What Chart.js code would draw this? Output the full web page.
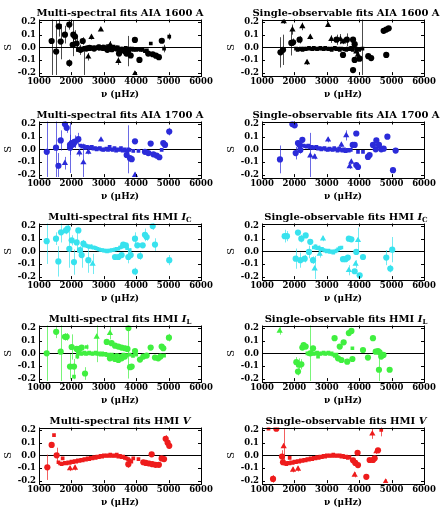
<!DOCTYPE html>
<html>
<head>
<meta charset="utf-8">
<script src="https://cdn.jsdelivr.net/npm/chart.js@4.4.0/dist/chart.umd.min.js"></script>
<style>
  body { margin: 0; background: #fff; width: 446px; height: 513px; position: relative; overflow: hidden; }
  .panel { position: absolute; width: 223px; height: 102px; }
  .panel canvas { position: absolute; left: 0; top: 0; }
  .ttl { position: absolute; top: 7px; white-space: nowrap; transform: translateX(-50%);
         font: bold 10px 'DejaVu Serif'; line-height: 11px; color: #000; }
  .ttl sub { font-size: 7px; line-height: 0; vertical-align: -2px; }
</style>
</head>
<body>
<script>
// axes
const xTicks = [1000, 2000, 3000, 4000, 5000, 6000];
const yTicks = [-0.2, -0.1, 0.0, 0.1, 0.2];

// [frequency, S, error]  -- Multi-spectral AIA 1600
const aia1600MultiCirc = [[1390,0.05,0.4],[1530,-0.034,0.25],[1610,0.165,0.08],[1670,0.045,0.14],[1800,0.10,0.07],[1935,0.18,0.04],[1935,-0.125,0.03],[2040,0.02,0.09],[2060,0.10,0.11],[2110,0.085,0.05],[2160,0.03,0.05],[2350,0.05,0.03],[2380,-0.32,0.31],[2280,-0.02,0.02],[2460,-0.01,0.01],[2560,-0.005,0.01],[2700,-0.01,0.01],[2850,0.0,0.01],[2980,-0.005,0.01],[3110,-0.02,0.01],[3250,-0.015,0.01],[3400,-0.01,0.01],[3470,-0.05,0.01],[3560,-0.02,0.01],[3640,-0.03,0.01],[3700,-0.05,0.01],[3760,-0.03,0.12],[3830,-0.065,0.01],[3960,0.058,0.01],[4100,-0.10,0.01],[4370,-0.05,0.01],[4510,-0.055,0.01],[4610,-0.066,0.01],[4700,-0.078,0.01],[4790,0.052,0.015]];
const aia1600MultiTri = [[2250,-0.02,0.04],[2520,-0.075,0.03],[2620,0.08,0.02],[2910,0.14,0.01],[3200,0.02,0.03],[3450,-0.11,0.03],[3960,-0.21,0.02]];
const aia1600MultiSq = [[2200,-0.02,0.01],[2240,-0.015,0.01],[2300,-0.01,0.01],[2330,-0.02,0.01],[2400,-0.005,0.01],[2430,-0.015,0.01],[2480,-0.01,0.01],[2520,0.0,0.01],[2580,-0.01,0.01],[2620,-0.005,0.01],[2660,0.0,0.01],[2720,-0.01,0.01],[2760,0.0,0.01],[2800,-0.005,0.01],[2840,0.005,0.01],[2880,-0.01,0.01],[2930,0.0,0.01],[2960,-0.005,0.01],[3000,0.005,0.01],[3040,-0.01,0.01],[3080,0.0,0.01],[3130,0.01,0.01],[3170,-0.005,0.01],[3210,0.0,0.01],[3260,-0.01,0.01],[3300,0.005,0.01],[3340,-0.005,0.01],[3380,-0.015,0.01],[3430,0.0,0.01],[3480,-0.01,0.01],[3520,-0.02,0.01],[3580,-0.01,0.01],[3620,-0.015,0.01],[3680,-0.005,0.01],[3720,-0.02,0.01],[3780,-0.01,0.01],[3820,-0.015,0.01],[3870,-0.01,0.01],[3920,-0.02,0.01],[4000,-0.02,0.01],[4060,-0.015,0.01],[4130,-0.02,0.01],[4200,-0.02,0.01],[4270,-0.03,0.01],[4330,-0.025,0.01],[4450,0.03,0.01],[4860,-0.01,0.03],[5020,0.085,0.025]];

// Single-observable AIA 1600
const aia1600SingleCirc = [[1570,-0.04,0.12],[1650,-0.02,0.12],[1905,0.035,0.1],[1960,0.04,0.03],[2160,0.06,0.03],[3300,0.06,0.04],[3500,-0.06,0.01],[3620,0.06,0.05],[3810,0.06,0.01],[3860,0.025,0.01],[3860,-0.1,0.02],[3810,-0.18,0.01],[4010,-0.09,0.01],[4280,-0.07,0.01],[4370,-0.085,0.01],[4755,0.13,0.015],[4835,0.14,0.015],[4835,-0.06,0.01],[4910,0.15,0.015]];
const aia1600SingleTri = [[1670,0.205,0.02],[1940,0.14,0.04],[2245,0.165,0.03],[2390,-0.12,0.02],[2490,0.08,0.02],[3040,0.175,0.01],[3140,0.065,0.03],[3420,0.065,0.04],[3500,0.045,0.02],[3910,-0.035,0.02],[3960,-0.06,0.02]];
const aia1600SingleSq = [[2050,-0.01,0.01],[2100,-0.02,0.01],[2150,-0.015,0.01],[2200,-0.01,0.01],[2250,-0.02,0.01],[2300,-0.01,0.01],[2350,-0.015,0.01],[2400,-0.01,0.01],[2450,-0.005,0.01],[2500,-0.01,0.01],[2550,-0.015,0.01],[2600,-0.005,0.01],[2650,-0.01,0.01],[2700,-0.015,0.01],[2750,-0.01,0.01],[2800,-0.005,0.01],[2850,-0.01,0.01],[2900,-0.015,0.01],[2950,-0.005,0.01],[3000,-0.01,0.01],[3050,-0.015,0.01],[3100,-0.01,0.01],[3150,-0.02,0.01],[3200,-0.01,0.01],[3250,-0.005,0.01],[3300,-0.015,0.01],[3350,-0.01,0.01],[3400,-0.02,0.01],[3450,-0.01,0.01],[3550,-0.015,0.01],[3600,-0.02,0.01],[3650,-0.01,0.01],[3700,-0.015,0.01],[3750,-0.005,0.01],[3800,-0.02,0.01],[3900,-0.01,0.01],[3950,-0.015,0.01],[4000,-0.02,0.01],[4100,-0.01,0.4]];

// Multi-spectral AIA 1700
const aia1700MultiCirc = [[1240,-0.02,0.4],[1525,0.013,0.3],[1600,-0.13,0.1],[1670,0.07,0.08],[1800,0.2,0.04],[1855,0.17,0.04],[1957,0.035,0.08],[1957,0.013,0.2],[2008,0.05,0.03],[2060,0.04,0.03],[2111,0.06,0.05],[2214,0.08,0.05],[3706,-0.045,0.01],[3810,-0.07,0.01],[3860,-0.078,0.01],[3963,0.063,0.01],[4270,-0.02,0.01],[4374,-0.03,0.01],[4447,0.045,0.01],[4530,-0.04,0.01],[4630,-0.05,0.01],[4714,-0.063,0.01],[4836,0.05,0.01],[4889,0.035,0.01],[5020,0.14,0.03]];
const aia1700MultiTri = [[1800,-0.11,0.05],[2245,-0.026,0.03],[2370,-0.105,0.15],[2523,-0.02,0.02],[2914,0.075,0.01],[3963,-0.205,0.02]];
const aia1700MultiSq = [[2280,0.03,0.01],[2330,0.02,0.01],[2380,0.025,0.01],[2430,0.01,0.01],[2480,0.02,0.01],[2530,0.015,0.01],[2580,0.01,0.01],[2630,0.02,0.01],[2680,0.005,0.01],[2730,0.01,0.01],[2780,0.0,0.01],[2830,0.005,0.01],[2880,0.01,0.01],[2930,0.0,0.01],[2980,-0.005,0.01],[3030,0.0,0.01],[3080,0.005,0.01],[3130,-0.005,0.01],[3180,0.02,0.01],[3230,0.0,0.01],[3280,-0.005,0.01],[3330,0.01,0.01],[3380,-0.01,0.01],[3430,0.0,0.01],[3480,-0.005,0.01],[3530,0.01,0.01],[3580,-0.01,0.01],[3630,0.0,0.01],[3680,-0.01,0.01],[3730,-0.015,0.01],[3750,0.0,0.19],[3790,-0.005,0.01],[3910,-0.013,0.01],[4070,-0.013,0.01],[4786,-0.005,0.01]];

// Single-observable AIA 1700
const aia1700SingleCirc = [[1555,-0.08,0.11],[1936,0.2,0.02],[2008,0.19,0.02],[2040,-0.03,0.05],[2111,0.05,0.02],[2163,0.035,0.02],[2183,-0.005,0.03],[2245,0.075,0.02],[3800,0.035,0.01],[3860,0.035,0.01],[3910,0.125,0.01],[3910,-0.125,0.02],[3963,-0.14,0.02],[4270,-0.06,0.01],[4320,-0.045,0.01],[4425,0.035,0.01],[4510,0.0,0.01],[4530,0.07,0.01],[4610,0.035,0.01],[4680,0.0,0.01],[4755,0.005,0.01],[4870,0.1,0.02],[5043,-0.165,0.01],[5125,-0.01,0.01]];
const aia1700SingleTri = [[2490,-0.05,0.18],[2625,-0.06,0.02],[3040,0.075,0.02],[3450,0.035,0.02],[3600,0.11,0.04],[3706,-0.135,0.02],[3757,-0.1,0.02]];
const aia1700SingleSq = [[2280,0.03,0.01],[2330,0.025,0.01],[2380,0.02,0.01],[2430,0.03,0.01],[2480,0.015,0.01],[2530,0.02,0.01],[2580,0.01,0.01],[2630,0.015,0.01],[2680,0.02,0.01],[2730,0.005,0.01],[2780,0.01,0.01],[2830,0.0,0.01],[2880,0.005,0.01],[2930,0.01,0.01],[2980,0.0,0.01],[3030,-0.005,0.01],[3080,0.005,0.01],[3130,0.0,0.01],[3180,-0.005,0.01],[3230,0.01,0.01],[3280,0.0,0.01],[3330,-0.01,0.01],[3380,0.005,0.01],[3430,-0.005,0.01],[3480,-0.01,0.01],[3530,0.0,0.01],[3580,-0.015,0.01],[3630,-0.005,0.01],[3680,-0.01,0.01],[3740,-0.005,0.01],[3963,-0.02,0.01],[4117,-0.02,0.01]];

// Multi-spectral HMI Ic
const hmiIcMultiCirc = [[1237,0.08,0.18],[1525,0.1,0.05],[1597,-0.08,0.12],[1680,0.15,0.08],[1833,0.165,0.03],[1885,0.18,0.03],[1936,0.02,0.15],[2008,0.087,0.04],[2080,-0.085,0.1],[2163,0.07,0.08],[2214,0.165,0.02],[2265,0.01,0.03],[2317,-0.03,0.1],[2370,0.06,0.03],[2523,-0.07,0.1],[3346,-0.045,0.01],[3450,-0.045,0.01],[3550,-0.03,0.01],[3600,0.053,0.01],[3680,0.047,0.01],[3757,-0.045,0.05],[3830,-0.03,0.02],[3963,0.1,0.05],[3963,-0.16,0.03],[4035,0.047,0.02],[4117,-0.037,0.03],[4200,0.047,0.02],[4270,0.13,0.05],[4323,0.113,0.03],[4510,0.2,0.03],[4580,0.053,0.05],[5020,-0.07,0.04]];
const hmiIcMultiTri = [[2656,-0.1,0.08]];
const hmiIcMultiSq = [[2400,0.05,0.015],[2450,0.045,0.015],[2500,0.04,0.015],[2550,0.035,0.015],[2600,0.04,0.015],[2650,0.03,0.015],[2700,0.03,0.015],[2750,0.025,0.015],[2800,0.02,0.01],[2850,0.015,0.01],[2900,0.01,0.01],[2950,0.01,0.01],[3000,0.005,0.01],[3050,0.005,0.01],[3100,0.0,0.01],[3150,0.005,0.01],[3200,0.005,0.01],[3250,0.01,0.01],[3300,0.01,0.01],[3350,0.015,0.01],[3400,0.02,0.01],[3450,0.02,0.01],[3500,0.03,0.01],[3550,0.035,0.01],[3650,0.04,0.015],[3720,0.025,0.015],[3800,0.01,0.015]];

// Single-observable HMI Ic
const hmiIcSingleCirc = [[1700,0.12,0.05],[1770,0.12,0.04],[2040,-0.058,0.08],[2111,0.148,0.02],[2183,-0.07,0.06],[2214,0.1,0.03],[2317,-0.058,0.03],[2348,0.126,0.02],[2450,-0.005,0.05],[2490,0.075,0.02],[2575,-0.07,0.03],[3500,-0.062,0.02],[3580,-0.062,0.02],[3650,-0.05,0.02],[3680,0.1,0.02],[3757,0.095,0.02],[3860,-0.158,0.02],[3910,-0.005,0.02],[4014,-0.19,0.02],[4117,-0.045,0.02],[4836,-0.05,0.06],[4960,-0.137,0.03],[5020,0.013,0.1]];
const hmiIcSingleTri = [[2625,-0.137,0.1],[2780,-0.02,0.03],[2883,0.1,0.02],[3680,-0.15,0.04],[3890,-0.1,0.03],[3963,0.087,0.1]];
const hmiIcSingleSq = [[2600,0.03,0.015],[2650,0.04,0.015],[2700,0.025,0.015],[2750,0.03,0.015],[2800,0.015,0.01],[2850,0.02,0.01],[2900,0.01,0.01],[2950,0.005,0.01],[3000,0.0,0.01],[3050,0.005,0.01],[3100,-0.005,0.01],[3150,0.0,0.01],[3200,-0.01,0.01],[3250,0.0,0.01],[3300,0.005,0.01],[3350,0.015,0.01],[3400,0.025,0.01],[3450,0.03,0.01]];

// Multi-spectral HMI IL
const hmiIlMultiCirc = [[1237,0.0,0.35],[1530,0.17,0.05],[1669,0.013,0.25],[1802,0.13,0.03],[1854,0.13,0.03],[1957,-0.105,0.1],[2008,0.05,0.1],[2080,-0.105,0.06],[2163,0.035,0.02],[2245,0.035,0.02],[2317,0.045,0.02],[2420,-0.16,0.05],[3090,0.09,0.02],[3240,0.08,0.02],[3346,0.06,0.02],[3450,0.053,0.02],[3550,0.045,0.02],[3650,0.04,0.02],[3730,0.035,0.02],[3760,0.2,0.4],[3190,-0.04,0.01],[3346,-0.045,0.01],[3450,-0.053,0.01],[3550,-0.04,0.01],[3650,-0.026,0.01],[3810,-0.11,0.01],[3860,-0.105,0.01],[3963,0.018,0.01],[4117,-0.05,0.01],[4220,-0.026,0.01],[4323,-0.018,0.01],[4447,0.045,0.01],[4580,-0.034,0.01],[4680,-0.04,0.01],[4750,-0.026,0.01],[4786,0.053,0.01],[4836,0.04,0.01],[5010,0.124,0.03]];
const hmiIlMultiTri = [[2780,0.13,0.2],[3190,0.16,0.05]];
const hmiIlMultiSq = [[2080,-0.185,0.02],[2183,-0.026,0.02],[2470,0.05,0.02],[2200,0.0,0.01],[2250,0.005,0.01],[2300,-0.005,0.01],[2350,0.0,0.01],[2400,0.005,0.01],[2450,-0.005,0.01],[2500,0.0,0.01],[2550,0.005,0.01],[2600,0.0,0.01],[2650,-0.005,0.01],[2700,0.0,0.01],[2750,0.005,0.01],[2800,-0.005,0.01],[2850,0.0,0.01],[2900,-0.01,0.01],[2950,0.0,0.01],[3000,-0.01,0.01],[3050,-0.005,0.01],[3100,-0.015,0.01],[3150,-0.01,0.01],[3200,-0.02,0.01],[3250,-0.01,0.01],[3300,-0.02,0.01],[3400,-0.015,0.01],[3500,-0.02,0.01],[3600,-0.01,0.01],[3700,-0.015,0.01],[3800,-0.01,0.01],[3900,-0.02,0.01],[4000,-0.01,0.01],[4860,-0.018,0.01]];

// Single-observable HMI IL
const hmiIlSingleCirc = [[2060,-0.07,0.04],[2111,-0.145,0.03],[2142,-0.09,0.05],[2214,-0.087,0.04],[2245,0.045,0.02],[2285,0.065,0.02],[2348,0.053,0.02],[2490,0.0,0.4],[2575,0.04,0.02],[3240,0.12,0.01],[3346,-0.04,0.01],[3400,0.053,0.01],[3450,-0.053,0.01],[3520,0.087,0.01],[3630,-0.066,0.01],[3680,0.16,0.02],[3760,0.177,0.02],[3790,-0.045,0.01],[4117,0.026,0.01],[4270,-0.034,0.01],[4425,0.12,0.01],[4510,0.013,0.01],[4580,0.018,0.01],[4610,-0.13,0.15],[4630,0.008,0.01],[4680,-0.026,0.01],[4750,-0.013,0.01],[4940,-0.13,0.01]];
const hmiIlSingleTri = [[1545,0.177,0.03]];
const hmiIlSingleSq = [[2400,0.0,0.01],[2450,-0.005,0.01],[2500,0.005,0.01],[2550,0.0,0.01],[2600,-0.005,0.01],[2650,0.0,0.01],[2700,0.005,0.01],[2730,-0.026,0.01],[2750,0.0,0.01],[2800,-0.005,0.01],[2850,0.0,0.01],[2900,0.005,0.01],[2950,-0.005,0.01],[3000,0.0,0.01],[3050,0.005,0.01],[3100,-0.005,0.01],[3150,0.0,0.01],[3200,-0.01,0.01],[3250,-0.02,0.01],[3300,-0.01,0.01],[3790,0.04,0.01]];

// Multi-spectral HMI V
const hmiVMultiCirc = [[1257,-0.095,0.1],[1391,0.082,0.01],[1545,0.0,0.06],[3757,-0.07,0.03],[4220,-0.055,0.01],[4300,-0.06,0.01],[4400,-0.065,0.01],[4477,0.008,0.01],[4500,-0.07,0.01],[4600,-0.075,0.01],[4700,-0.075,0.01],[4786,-0.025,0.01],[4860,-0.03,0.01],[4910,0.13,0.03],[4970,0.1,0.02],[5020,0.075,0.02]];
const hmiVMultiTri = [[1957,-0.105,0.02],[2111,-0.1,0.02]];
const hmiVMultiSq = [[1463,0.16,0.01],[1730,-0.024,0.01],[3910,-0.025,0.01],[4070,-0.03,0.01],[1600,-0.055,0.01],[1650,-0.065,0.01],[1700,-0.07,0.01],[1750,-0.065,0.01],[1800,-0.06,0.01],[1850,-0.065,0.01],[1900,-0.055,0.01],[1950,-0.06,0.01],[2000,-0.05,0.01],[2050,-0.055,0.01],[2100,-0.045,0.01],[2150,-0.05,0.01],[2200,-0.04,0.01],[2250,-0.045,0.01],[2300,-0.035,0.01],[2350,-0.04,0.01],[2400,-0.03,0.01],[2450,-0.035,0.01],[2500,-0.025,0.01],[2550,-0.03,0.01],[2600,-0.02,0.01],[2650,-0.025,0.01],[2700,-0.015,0.01],[2750,-0.02,0.01],[2800,-0.01,0.01],[2850,-0.015,0.01],[2900,-0.005,0.01],[2950,-0.01,0.01],[3000,0.0,0.01],[3050,-0.005,0.01],[3100,0.0,0.01],[3150,-0.005,0.01],[3200,0.005,0.01],[3250,-0.005,0.01],[3300,0.0,0.01],[3350,-0.005,0.01],[3400,0.005,0.01],[3450,-0.01,0.01],[3500,-0.005,0.01],[3550,-0.015,0.01],[3600,-0.01,0.01],[3650,-0.02,0.01],[3700,-0.025,0.01],[3750,-0.03,0.01],[3800,-0.04,0.01],[3850,-0.05,0.01]];

// Single-observable HMI V
const hmiVSingleCirc = [[1340,-0.187,0.03],[1442,0.21,0.01],[1617,-0.01,0.05],[1648,-0.055,0.02],[3810,-0.04,0.01],[3880,-0.06,0.01],[3950,0.02,0.01],[3963,-0.077,0.01],[4220,-0.17,0.01],[4323,-0.037,0.01],[4425,-0.037,0.01],[4477,-0.024,0.01],[4580,0.04,0.01]];
const hmiVSingleTri = [[1669,0.07,0.14],[1957,-0.115,0.02],[2111,-0.108,0.02],[3860,-0.155,0.02],[4405,0.17,0.04],[4530,0.03,0.02],[4815,-0.21,0.02]];
const hmiVSingleSq = [[1200,0.21,0.01],[1854,-0.02,0.01],[4680,0.2,0.05],[1700,-0.065,0.01],[1750,-0.07,0.01],[1800,-0.06,0.01],[1850,-0.065,0.01],[1900,-0.055,0.01],[1950,-0.06,0.01],[2000,-0.05,0.01],[2050,-0.055,0.01],[2100,-0.045,0.01],[2150,-0.05,0.01],[2200,-0.04,0.01],[2250,-0.045,0.01],[2300,-0.035,0.01],[2350,-0.04,0.01],[2400,-0.03,0.01],[2450,-0.035,0.01],[2500,-0.025,0.01],[2550,-0.03,0.01],[2600,-0.02,0.01],[2650,-0.025,0.01],[2700,-0.015,0.01],[2750,-0.02,0.01],[2800,-0.01,0.01],[2850,-0.015,0.01],[2900,-0.005,0.01],[2950,-0.01,0.01],[3000,0.0,0.01],[3050,-0.005,0.01],[3100,0.0,0.01],[3150,-0.005,0.01],[3200,0.005,0.01],[3250,-0.005,0.01],[3300,0.0,0.01],[3350,-0.005,0.01],[3400,0.0,0.01],[3450,-0.01,0.01],[3500,-0.005,0.01],[3550,-0.015,0.01],[3600,-0.01,0.01],[3650,-0.02,0.01],[3700,-0.015,0.01]];

const panels = [
  { title: 'Multi-spectral fits AIA 1600 A', color: '#000000', circ: aia1600MultiCirc, tri: aia1600MultiTri, sq: aia1600MultiSq },
  { title: 'Single-observable fits AIA 1600 A', color: '#000000', circ: aia1600SingleCirc, tri: aia1600SingleTri, sq: aia1600SingleSq },
  { title: 'Multi-spectral fits AIA 1700 A', color: '#2b2bd9', circ: aia1700MultiCirc, tri: aia1700MultiTri, sq: aia1700MultiSq },
  { title: 'Single-observable fits AIA 1700 A', color: '#2b2bd9', circ: aia1700SingleCirc, tri: aia1700SingleTri, sq: aia1700SingleSq },
  { title: 'Multi-spectral fits HMI <i>I</i><sub>C</sub>', color: '#38e2ee', circ: hmiIcMultiCirc, tri: hmiIcMultiTri, sq: hmiIcMultiSq },
  { title: 'Single-observable fits HMI <i>I</i><sub>C</sub>', color: '#38e2ee', circ: hmiIcSingleCirc, tri: hmiIcSingleTri, sq: hmiIcSingleSq },
  { title: 'Multi-spectral fits HMI <i>I</i><sub>L</sub>', color: '#40ef40', circ: hmiIlMultiCirc, tri: hmiIlMultiTri, sq: hmiIlMultiSq },
  { title: 'Single-observable fits HMI <i>I</i><sub>L</sub>', color: '#40ef40', circ: hmiIlSingleCirc, tri: hmiIlSingleTri, sq: hmiIlSingleSq },
  { title: 'Multi-spectral fits HMI <i>V</i>', color: '#ee1c1c', circ: hmiVMultiCirc, tri: hmiVMultiTri, sq: hmiVMultiSq },
  { title: 'Single-observable fits HMI <i>V</i>', color: '#ee1c1c', circ: hmiVSingleCirc, tri: hmiVSingleTri, sq: hmiVSingleSq }
];

const tickFont = { family: "'DejaVu Serif'", size: 8.5, weight: 'bold' };

// vertical error bars, drawn through the y scale
const errorBars = {
  id: 'errorBars',
  beforeDatasetsDraw(chart) {
    const { ctx, chartArea: a, scales: { y } } = chart;
    ctx.save();
    ctx.beginPath();
    ctx.rect(a.left, a.top, a.right - a.left, a.bottom - a.top);
    ctx.clip();
    ctx.globalAlpha = 0.7;
    chart.data.datasets.forEach((ds, i) => {
      ctx.strokeStyle = ds.borderColor;
      ctx.lineWidth = 1;
      chart.getDatasetMeta(i).data.forEach((pt, j) => {
        const d = ds.data[j];
        const px = Math.round(pt.x) + 0.5;
        ctx.beginPath();
        ctx.moveTo(px, y.getPixelForValue(d.y + d.e));
        ctx.lineTo(px, y.getPixelForValue(d.y - d.e));
        ctx.stroke();
      });
    });
    ctx.restore();
  }
};

// IDL-like box with inward ticks and the zero line
const frame = {
  id: 'frame',
  beforeDatasetsDraw(chart) {
    const { ctx, chartArea: a, scales: { y } } = chart;
    const y0 = Math.round(y.getPixelForValue(0)) + 0.5;
    ctx.save();
    ctx.strokeStyle = '#000';
    ctx.lineWidth = 1;
    ctx.beginPath(); ctx.moveTo(a.left, y0); ctx.lineTo(a.right, y0); ctx.stroke();
    ctx.restore();
  },
  afterDraw(chart) {
    const { ctx, chartArea: a, scales: { x, y } } = chart;
    ctx.save();
    ctx.strokeStyle = '#000';
    ctx.lineWidth = 1;
    ctx.strokeRect(Math.round(a.left) + 0.5, Math.round(a.top) + 0.5, Math.round(a.right - a.left), Math.round(a.bottom - a.top));
    ctx.beginPath();
    xTicks.forEach(v => {
      const px = Math.round(x.getPixelForValue(v)) + 0.5;
      ctx.moveTo(px, a.bottom); ctx.lineTo(px, a.bottom - 3);
      ctx.moveTo(px, a.top); ctx.lineTo(px, a.top + 3);
    });
    yTicks.forEach(v => {
      const py = Math.round(y.getPixelForValue(v)) + 0.5;
      ctx.moveTo(a.left, py); ctx.lineTo(a.left + 3, py);
      ctx.moveTo(a.right, py); ctx.lineTo(a.right - 3, py);
    });
    ctx.stroke();
    ctx.restore();
  }
};

function makeSet(rows, style, radius, color) {
  return {
    data: rows.map(r => ({ x: r[0], y: r[1], e: r[2] })),
    pointStyle: style,
    pointRadius: radius,
    backgroundColor: color,
    borderColor: color,
    borderWidth: 0
  };
}

panels.forEach((p, k) => {
  const col = k % 2, row = Math.floor(k / 2);
  const holder = document.createElement('div');
  holder.className = 'panel';
  holder.style.left = (col * 223) + 'px';
  holder.style.top = (row * 102) + 'px';
  holder.innerHTML = '<canvas width="223" height="102"></canvas><div class="ttl" style="left:' + (col ? 123 : 120) + 'px">' + p.title + '</div>';
  document.body.appendChild(holder);

  new Chart(holder.querySelector('canvas'), {
    type: 'scatter',
    data: {
      datasets: [
        makeSet(p.sq, 'rect', 2.6, p.color),
        makeSet(p.circ, 'circle', 3.1, p.color),
        makeSet(p.tri, 'triangle', 3.6, p.color)
      ]
    },
    options: {
      responsive: false,
      animation: false,
      events: [],
      layout: { padding: { top: 19.5, right: 22, left: 0, bottom: 0 } },
      plugins: { legend: { display: false }, tooltip: { enabled: false } },
      scales: {
        x: {
          type: 'linear', min: 1000, max: 6000,
          afterBuildTicks: s => { s.ticks = xTicks.map(v => ({ value: v })); },
          afterFit: s => { s.height = 26.9; },
          grid: { display: false, drawTicks: false },
          border: { display: false },
          ticks: { padding: 2, color: '#000', font: tickFont, maxRotation: 0, autoSkip: false, callback: v => String(v) },
          title: { display: true, text: 'ν (μHz)', color: '#000', font: { family: "'DejaVu Serif'", size: 9, weight: 'bold' }, padding: { top: 0, bottom: 2 } }
        },
        y: {
          type: 'linear', min: -0.22, max: 0.22,
          afterBuildTicks: s => { s.ticks = yTicks.map(v => ({ value: v })); },
          afterFit: s => { s.width = 39; },
          grid: { display: false, drawTicks: false },
          border: { display: false },
          ticks: { padding: 3, color: '#000', font: tickFont, callback: v => v.toFixed(1) },
          title: { display: true, text: 'S', color: '#000', font: { family: "'DejaVu Serif'", size: 10 }, padding: { top: 2, bottom: 0 } }
        }
      }
    },
    plugins: [frame, errorBars]
  });
});
</script>
</body>
</html>
